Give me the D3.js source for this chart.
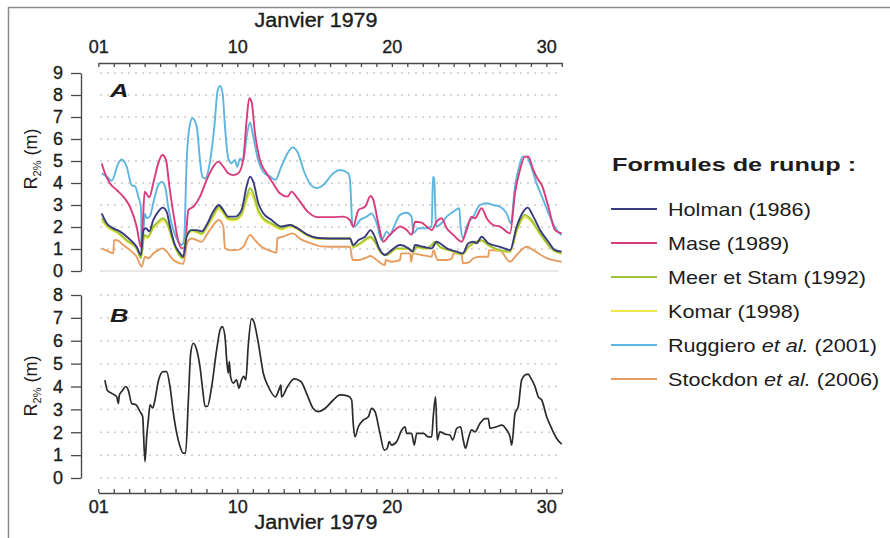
<!DOCTYPE html>
<html><head><meta charset="utf-8">
<script src="https://cdn.jsdelivr.net/npm/d3@7"></script>
<style>
body{margin:0;background:#fff}
svg{display:block}
text{font-family:"Liberation Sans",Arial,Helvetica,sans-serif;fill:#1c1c1c}
</style>
</head><body>
<svg id="c" width="890" height="538"></svg>
<script>
// ---------------- data ----------------
const dayTicks = d3.range(1, 32);
const dayLabels = {1: "01", 10: "10", 20: "20", 30: "30"};
const xTitle = "Janvier 1979";
const yTicksA = d3.range(0, 10);
const yTicksB = d3.range(0, 9);
const legendTitle = "Formules de runup :";
const seriesNames = ["Holman (1986)", "Mase (1989)", "Meer et Stam (1992)", "Komar (1998)", "Ruggiero et al. (2001)", "Stockdon et al. (2006)"];

// [day of January 1979, R2% (m)]
const holman = [[1.22,2.62],[1.54,2.17],[1.97,1.94],[2.4,1.8],[2.94,1.5],[3.48,1.1],[3.76,0.73],[3.92,1.86],[4.09,1.94],[4.3,1.8],[4.56,2.32],[4.88,2.7],[5.16,2.88],[5.42,2.7],[5.64,2.02],[5.96,1.18],[6.29,0.8],[6.5,0.65],[6.72,1.56],[7.04,1.86],[7.37,1.86],[7.69,1.8],[8.01,2.09],[8.44,2.7],[8.8,3.0],[9.09,2.77],[9.41,2.47],[9.84,2.47],[10.27,2.77],[10.6,3.85],[10.82,4.29],[11.03,4.06],[11.36,3.08],[11.68,2.62],[12.21,2.32],[12.86,2.02],[13.4,2.09],[13.9,1.94],[14.55,1.64],[15.2,1.5],[15.78,1.48],[17.29,1.48],[17.5,1.18],[17.83,1.4],[18.26,1.56],[18.63,1.86],[18.84,1.64],[19.23,0.95],[19.55,0.73],[19.98,0.95],[20.53,1.18],[21.07,1.03],[21.35,0.88],[21.5,1.18],[22.04,1.1],[22.58,1.03],[22.9,1.33],[23.11,1.26],[23.55,1.03],[24.2,0.88],[24.58,0.8],[24.95,1.26],[25.27,1.33],[25.49,1.26],[25.81,1.56],[26.24,1.26],[27.0,1.1],[27.65,0.95],[28.08,2.02],[28.51,2.7],[28.79,2.88],[29.16,2.47],[29.59,1.86],[30.13,1.33],[30.56,0.95],[30.99,0.88]];
const mase = [[1.22,4.89],[1.43,4.44],[1.76,3.98],[2.19,3.68],[2.62,3.38],[3.05,2.92],[3.48,2.02],[3.76,1.1],[3.88,2.2],[4.0,3.6],[4.13,3.5],[4.3,3.35],[4.56,4.0],[4.88,4.89],[5.14,5.27],[5.38,5.05],[5.6,3.85],[5.86,2.62],[6.14,1.48],[6.4,1.03],[6.6,1.1],[6.83,2.77],[7.15,2.92],[7.58,3.38],[8.01,4.14],[8.44,4.74],[8.77,4.97],[9.09,4.74],[9.41,4.44],[9.73,4.36],[10.06,4.44],[10.38,5.05],[10.6,6.86],[10.77,7.85],[10.92,7.7],[11.14,6.26],[11.46,5.05],[11.89,4.44],[12.32,3.98],[12.75,3.53],[13.25,3.38],[13.5,3.61],[13.9,3.3],[14.55,2.7],[15.2,2.45],[16.21,2.45],[16.86,2.47],[17.29,2.32],[17.5,2.02],[17.83,2.77],[18.26,2.92],[18.63,3.41],[18.8,3.23],[19.12,2.17],[19.45,1.33],[19.77,1.56],[20.2,1.86],[20.53,2.02],[20.96,1.86],[21.28,1.64],[21.5,2.24],[21.93,2.2],[22.25,2.02],[22.58,1.86],[22.9,2.24],[23.22,2.4],[23.55,1.94],[23.98,1.64],[24.52,1.33],[24.84,1.86],[25.16,2.47],[25.38,2.4],[25.81,2.85],[26.14,2.4],[26.57,2.09],[27.0,2.02],[27.65,1.71],[27.97,3.53],[28.29,4.59],[28.62,5.2],[28.83,5.2],[29.16,4.59],[29.48,4.14],[29.7,3.91],[30.13,2.92],[30.56,1.86],[30.99,1.71]];
const meer = [[1.22,2.4],[1.65,2.02],[2.19,1.8],[2.84,1.4],[3.48,1.03],[3.76,0.58],[3.98,1.64],[4.2,1.56],[4.56,2.02],[4.88,2.24],[5.16,2.4],[5.42,2.24],[5.75,1.56],[6.07,0.95],[6.46,0.58],[6.72,1.64],[7.04,1.86],[7.37,1.8],[7.69,1.71],[8.01,2.02],[8.44,2.55],[8.8,2.92],[9.09,2.7],[9.41,2.4],[9.84,2.36],[10.27,2.62],[10.6,3.38],[10.82,3.76],[11.03,3.53],[11.36,2.77],[11.68,2.4],[12.21,2.17],[12.86,1.94],[13.4,2.09],[13.9,1.94],[14.55,1.64],[15.2,1.5],[16.06,1.48],[17.29,1.48],[17.5,1.1],[17.94,1.26],[18.63,1.56],[18.9,1.33],[19.34,0.8],[19.66,0.73],[20.31,1.03],[21.07,1.03],[21.39,0.88],[21.6,1.1],[22.25,1.03],[22.58,1.18],[22.79,1.33],[23.11,1.1],[23.76,0.95],[24.58,0.77],[24.95,1.1],[25.81,1.4],[26.24,1.18],[27.65,0.88],[28.08,1.86],[28.62,2.55],[28.94,2.4],[29.59,1.71],[30.45,0.95],[30.99,0.8]];
const komar = [[1.22,2.3],[1.65,1.95],[2.19,1.75],[2.84,1.35],[3.48,1.0],[3.76,0.6],[3.98,1.55],[4.2,1.5],[4.56,1.92],[4.88,2.15],[5.16,2.3],[5.42,2.15],[5.75,1.5],[6.07,0.92],[6.46,0.6],[6.72,1.6],[7.04,1.8],[7.37,1.75],[7.69,1.66],[8.01,1.95],[8.44,2.45],[8.8,2.82],[9.09,2.62],[9.41,2.32],[9.84,2.3],[10.27,2.52],[10.6,3.2],[10.82,3.55],[11.03,3.35],[11.36,2.65],[11.68,2.32],[12.21,2.1],[12.86,1.88],[13.4,2.02],[13.9,1.88],[14.55,1.6],[15.2,1.45],[16.06,1.45],[17.29,1.45],[17.5,1.08],[17.94,1.22],[18.63,1.5],[18.9,1.3],[19.34,0.8],[19.66,0.72],[20.31,1.0],[21.07,1.0],[21.39,0.86],[21.6,1.07],[22.25,1.0],[22.58,1.15],[22.79,1.3],[23.11,1.07],[23.76,0.93],[24.58,0.76],[24.95,1.07],[25.81,1.36],[26.24,1.15],[27.65,0.86],[28.08,1.8],[28.62,2.45],[28.94,2.32],[29.59,1.66],[30.45,0.93],[30.99,0.78]];
const ruggiero = [[1.22,4.44],[1.54,4.3],[1.87,4.1],[2.3,4.9],[2.51,5.07],[2.84,4.74],[3.16,3.9],[3.38,3.85],[3.59,3.38],[3.76,2.9],[3.81,0.8],[4.02,2.6],[4.13,2.4],[4.35,2.5],[4.56,3.1],[4.88,3.9],[5.1,4.05],[5.32,3.85],[5.53,2.9],[5.86,1.86],[6.18,1.33],[6.4,1.18],[6.55,1.4],[6.72,5.0],[6.94,6.7],[7.09,6.94],[7.37,6.56],[7.58,5.05],[7.73,4.3],[7.91,4.2],[8.23,4.97],[8.51,6.56],[8.73,8.23],[8.88,8.41],[9.05,8.05],[9.2,6.56],[9.41,5.12],[9.63,4.9],[9.84,5.05],[9.99,4.74],[10.17,5.1],[10.38,5.0],[10.6,6.1],[10.82,6.75],[11.03,6.1],[11.36,5.0],[11.68,4.5],[12.1,4.3],[12.47,4.15],[12.82,4.7],[13.25,5.35],[13.57,5.62],[13.9,5.4],[14.33,4.5],[14.76,3.9],[15.13,3.77],[15.56,3.91],[16.21,4.44],[16.64,4.59],[17.18,4.44],[17.29,4.14],[17.46,2.02],[17.6,2.02],[17.94,2.32],[18.37,2.47],[18.69,2.62],[19.02,2.17],[19.34,1.4],[19.66,1.79],[19.88,1.64],[20.09,1.94],[20.53,2.55],[20.96,2.65],[21.28,2.47],[21.39,1.71],[21.71,1.94],[22.14,1.94],[22.58,2.02],[22.66,4.29],[22.74,4.2],[22.86,2.02],[23.22,2.17],[23.55,2.47],[23.98,2.7],[24.37,2.85],[24.45,2.02],[24.62,1.48],[24.84,2.02],[25.27,2.47],[25.7,3.0],[26.14,3.08],[26.57,3.0],[27.0,2.92],[27.43,2.62],[27.7,2.17],[27.97,3.85],[28.29,4.89],[28.46,5.2],[28.72,5.2],[28.94,4.89],[29.37,3.98],[29.8,3.23],[30.23,2.47],[30.67,1.86],[30.99,1.64]];
const stockdon = [[1.22,1.03],[1.65,0.89],[1.97,0.8],[2.02,1.4],[2.23,1.4],[2.62,1.18],[3.05,0.95],[3.48,0.65],[3.81,0.2],[4.02,0.65],[4.24,0.58],[4.56,0.8],[4.88,0.95],[5.16,1.03],[5.42,0.89],[5.86,0.5],[6.29,0.35],[6.5,0.33],[6.77,1.33],[7.04,1.48],[7.37,1.4],[7.69,1.33],[8.01,1.64],[8.44,2.09],[8.8,2.32],[9.09,2.02],[9.2,1.03],[9.52,0.95],[9.95,0.95],[10.38,1.1],[10.82,1.64],[11.14,1.4],[11.57,1.1],[12.0,0.95],[12.54,0.83],[12.58,1.48],[12.97,1.56],[13.57,1.71],[14.1,1.45],[14.76,1.26],[15.41,1.12],[16.06,1.1],[17.29,1.1],[17.46,0.5],[17.83,0.5],[18.26,0.58],[18.63,0.68],[19.02,0.5],[19.55,0.27],[19.6,0.5],[19.98,0.42],[20.53,0.5],[20.6,0.8],[21.18,0.8],[21.25,0.42],[21.35,0.8],[21.93,0.73],[22.58,0.65],[22.7,0.95],[22.95,0.5],[23.55,0.5],[23.9,0.58],[23.98,0.8],[24.52,0.73],[24.6,0.35],[25.05,0.42],[25.27,0.58],[25.7,0.65],[26.24,0.65],[26.3,0.95],[27.0,0.92],[27.65,0.42],[28.08,0.73],[28.72,1.1],[29.16,0.95],[30.02,0.58],[30.99,0.42]];
const panelB = [[1.43,4.28],[1.58,3.84],[1.87,3.7],[2.19,3.55],[2.3,3.26],[2.36,3.62],[2.58,3.84],[2.77,4.0],[2.94,3.84],[3.16,3.26],[3.44,3.2],[3.7,2.9],[3.87,2.69],[4.02,0.71],[4.13,1.8],[4.24,2.55],[4.35,3.2],[4.52,3.06],[4.67,3.42],[4.88,4.22],[5.2,4.65],[5.42,4.65],[5.64,4.0],[5.86,2.84],[6.07,1.97],[6.29,1.38],[6.5,1.09],[6.65,1.09],[6.83,3.42],[6.98,5.45],[7.15,5.89],[7.37,5.6],[7.58,4.87],[7.76,3.84],[7.91,3.13],[8.06,3.13],[8.34,4.0],[8.66,5.6],[8.88,6.47],[9.03,6.62],[9.2,6.18],[9.31,5.16],[9.41,4.58],[9.48,5.09],[9.56,4.44],[9.73,4.15],[9.95,4.29],[10.1,3.93],[10.27,4.29],[10.42,4.44],[10.55,4.29],[10.7,5.74],[10.92,6.97],[11.07,6.83],[11.36,5.89],[11.68,4.58],[12.0,4.0],[12.47,3.55],[12.68,3.84],[12.82,4.07],[12.86,3.55],[13.25,4.0],[13.68,4.33],[14.11,4.22],[14.48,3.7],[14.91,3.04],[15.24,2.9],[15.67,3.04],[16.21,3.41],[16.64,3.63],[17.18,3.58],[17.4,3.41],[17.5,2.38],[17.61,1.8],[17.83,2.24],[18.15,2.53],[18.48,2.68],[18.69,3.04],[18.91,2.9],[19.23,1.95],[19.51,1.22],[19.7,1.3],[19.83,1.59],[19.98,1.44],[20.31,1.59],[20.64,2.1],[20.85,2.24],[20.96,1.95],[21.28,1.95],[21.45,1.44],[21.61,1.95],[22.04,1.95],[22.36,1.8],[22.58,1.8],[22.68,2.68],[22.83,3.55],[22.94,1.66],[23.11,2.02],[23.44,1.92],[23.76,1.88],[23.94,1.66],[24.2,2.17],[24.45,2.24],[24.62,1.66],[24.77,1.3],[24.95,1.73],[25.16,2.1],[25.38,2.02],[25.7,2.38],[26.03,2.6],[26.24,2.6],[26.35,2.17],[26.78,2.24],[27.11,2.31],[27.43,2.1],[27.65,1.8],[27.76,1.44],[27.97,2.82],[28.18,3.12],[28.4,4.28],[28.62,4.5],[28.83,4.54],[28.94,4.43],[29.27,3.99],[29.48,3.55],[29.7,3.41],[30.02,2.68],[30.34,2.17],[30.67,1.73],[30.99,1.48]];

const seriesData = [holman, mase, meer, komar, ruggiero, stockdon];
const seriesColors = ["#3a3a7e", "#d83c7c", "#9fc43a", "#eee64a", "#5eb6e0", "#e89d60"];
const drawOrder = [5, 4, 1, 3, 2, 0];

// ---------------- drawing ----------------
const svg = d3.select("#c");
const x = d3.scaleLinear().domain([1, 31]).range([98.3, 561.8]);
const yA = d3.scaleLinear().domain([0, 9]).range([271, 73]);
const yB = d3.scaleLinear().domain([0, 8]).range([478, 295]);

// frame
svg.append("line").attr("x1", 8).attr("x2", 890).attr("y1", 7.5).attr("y2", 7.5)
  .attr("stroke", "#8c8c8c").attr("stroke-width", 1.5);
svg.append("line").attr("x1", 8.5).attr("x2", 8.5).attr("y1", 7).attr("y2", 538)
  .attr("stroke", "#8c8c8c").attr("stroke-width", 1.5);

// grid
function grid(y, vals, solidZero) {
  svg.append("g").selectAll("line").data(vals).join("line")
    .attr("x1", 100).attr("x2", 559)
    .attr("y1", d => y(d)).attr("y2", d => y(d))
    .attr("stroke", d => (solidZero && d === 0) ? "#e2e2e2" : "#cccccc")
    .attr("stroke-width", 1.5)
    .attr("stroke-dasharray", d => (solidZero && d === 0) ? null : "2,5");
}
grid(yA, yTicksA, true);
grid(yB, yTicksB, false);

function styleAxis(g, fs) {
  g.select(".domain").attr("stroke", "#4a4a4a").attr("stroke-width", 1.4);
  g.selectAll(".tick line").attr("stroke", "#4a4a4a").attr("stroke-width", 1.3);
  g.selectAll(".tick text").attr("font-size", fs).attr("fill", "#1c1c1c")
    .attr("stroke", "#1c1c1c").attr("stroke-width", 0.35)
    .attr("font-family", "'Liberation Sans', Arial, sans-serif");
}

// top x axis
const gTop = svg.append("g").attr("transform", "translate(0,63)")
  .call(d3.axisTop(x).tickValues(dayTicks).tickSizeInner(-4).tickSizeOuter(0)
    .tickPadding(10).tickFormat(d => dayLabels[d] || ""));
styleAxis(gTop, 18);
// bottom x axis
const gBot = svg.append("g").attr("transform", "translate(0,493)")
  .call(d3.axisBottom(x).tickValues(dayTicks).tickSizeInner(-4).tickSizeOuter(0)
    .tickPadding(7).tickFormat(d => dayLabels[d] || ""));
styleAxis(gBot, 18);

// y axes
const gA = svg.append("g").attr("transform", "translate(81,0)")
  .call(d3.axisLeft(yA).tickValues(yTicksA).tickSize(10).tickSizeOuter(0).tickPadding(8).tickFormat(d3.format("d")));
styleAxis(gA, 18);
const gB = svg.append("g").attr("transform", "translate(81,0)")
  .call(d3.axisLeft(yB).tickValues(yTicksB).tickSize(10).tickSizeOuter(0).tickPadding(8).tickFormat(d3.format("d")));
styleAxis(gB, 18);

// x titles
[27, 529].forEach(yy => {
  svg.append("text").attr("x", 316).attr("y", yy).attr("text-anchor", "middle")
    .attr("font-size", 19.5).attr("textLength", 123).attr("lengthAdjust", "spacingAndGlyphs")
    .attr("stroke", "#1c1c1c").attr("stroke-width", 0.35)
    .text(xTitle);
});

// y titles
function yTitle(cy) {
  const t = svg.append("text").attr("transform", `translate(37,${cy}) rotate(-90)`)
    .attr("text-anchor", "middle").attr("font-size", 18);
  t.append("tspan").text("R");
  t.append("tspan").attr("font-size", 11).attr("dy", 4).text("2%");
  t.append("tspan").attr("dy", -4).text(" (m)");
}
yTitle(159);
yTitle(386);

// panel letters
[["A", 97], ["B", 322]].forEach(([l, yy]) => {
  svg.append("text").attr("transform", `translate(110,${yy}) scale(1.35,1)`)
    .attr("font-size", 19).attr("font-weight", "bold").attr("font-style", "italic")
    .attr("fill", "#111").text(l);
});

// lines
const lineA = d3.line().x(d => x(d[0])).y(d => yA(d[1])).curve(d3.curveMonotoneX);
const lineB = d3.line().x(d => x(d[0])).y(d => yB(d[1])).curve(d3.curveMonotoneX);
drawOrder.forEach(i => {
  svg.append("path").datum(seriesData[i]).attr("d", lineA)
    .attr("fill", "none").attr("stroke", seriesColors[i]).attr("stroke-width", 1.9)
    .attr("stroke-linejoin", "round");
});
svg.append("path").datum(panelB).attr("d", lineB)
  .attr("fill", "none").attr("stroke", "#2b2b2b").attr("stroke-width", 1.7)
  .attr("stroke-linejoin", "round");

// legend
svg.append("text").attr("transform", "translate(612,171) scale(1.33,1)")
  .attr("font-size", 19).attr("font-weight", "bold").attr("fill", "#111").text(legendTitle);
seriesNames.forEach((name, i) => {
  const cy = 209 + i * 34;
  svg.append("line").attr("x1", 611).attr("x2", 657).attr("y1", cy).attr("y2", cy)
    .attr("stroke", seriesColors[i]).attr("stroke-width", 1.8);
  const t = svg.append("text").attr("transform", `translate(668,${cy + 6.5}) scale(1.2,1)`)
    .attr("font-size", 18);
  const parts = name.split("et al.");
  if (parts.length > 1) {
    t.append("tspan").text(parts[0]);
    t.append("tspan").attr("font-style", "italic").text("et al.");
    t.append("tspan").text(parts[1]);
  } else {
    t.text(name);
  }
});
</script>
</body></html>
